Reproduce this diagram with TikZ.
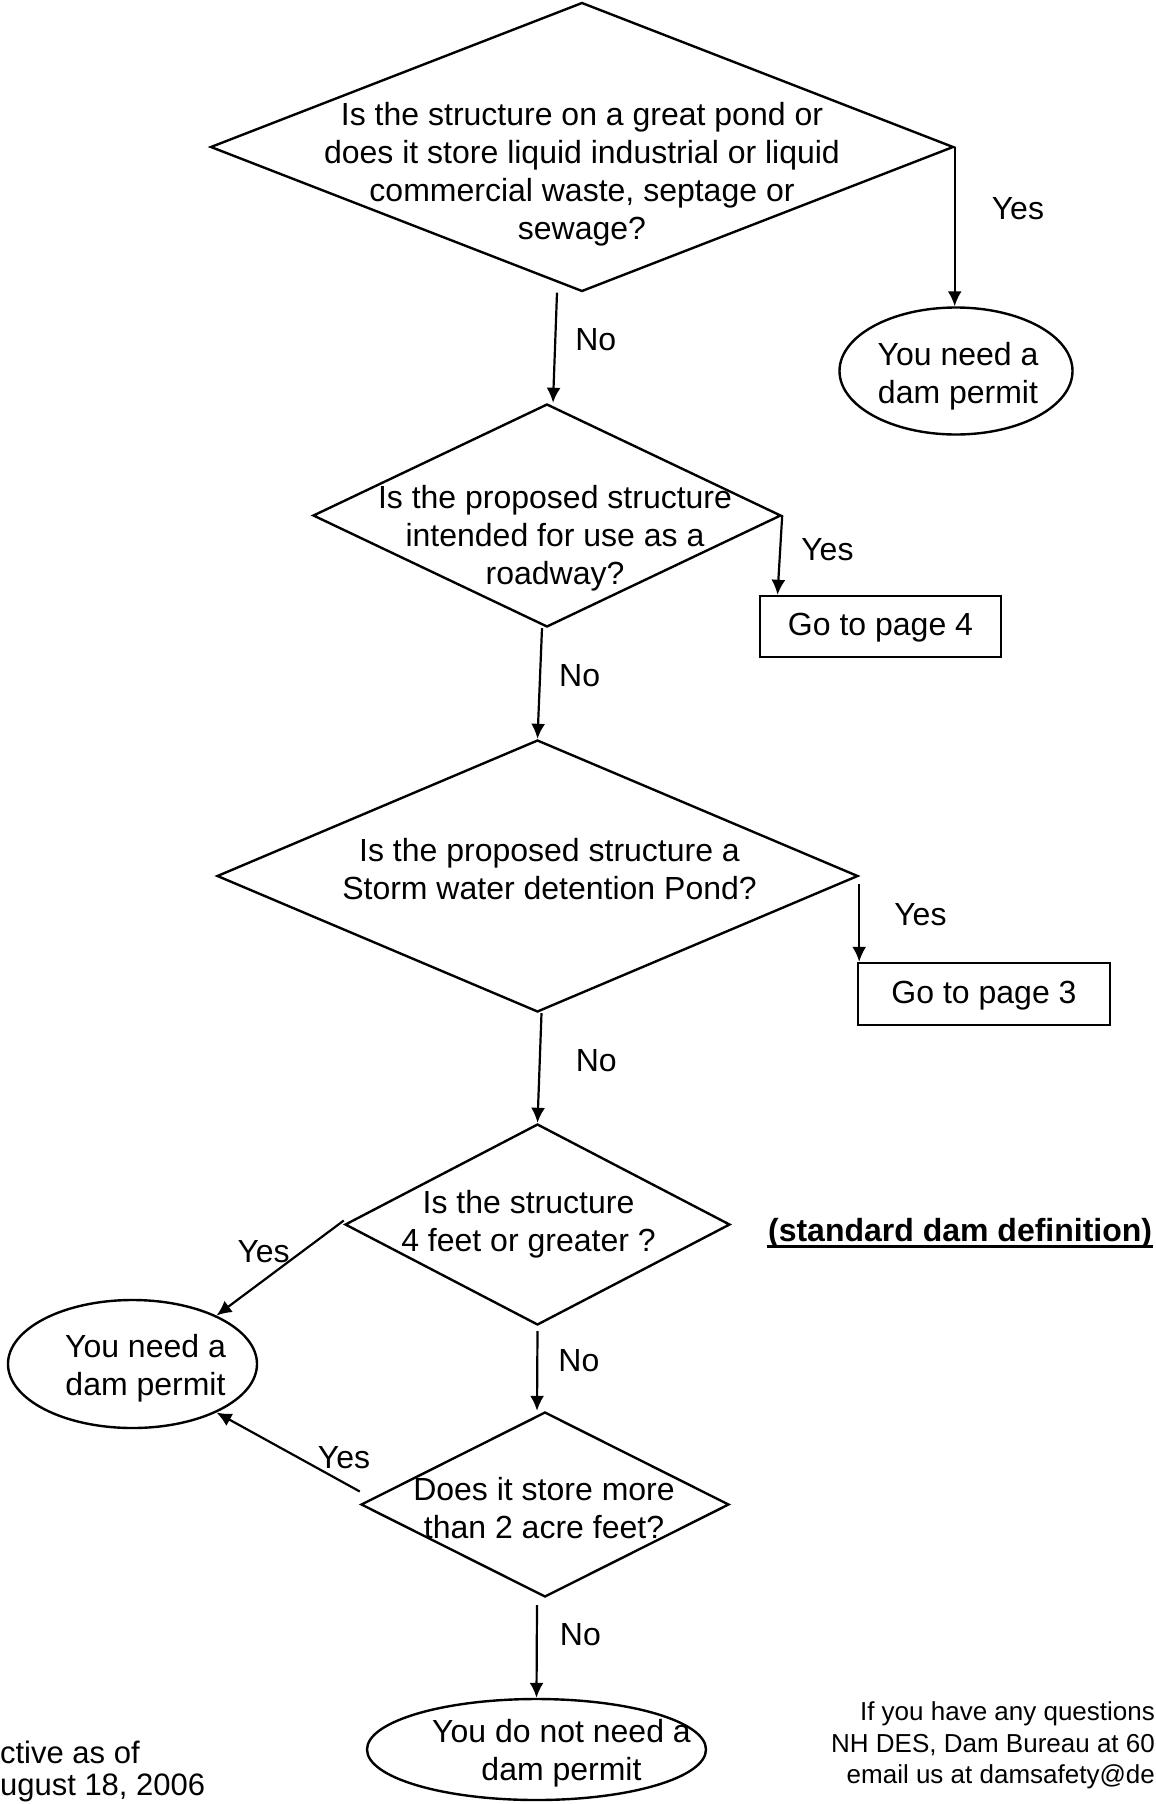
\documentclass[tikz,border=0pt]{standalone}
\usepackage{fontspec}
\setmainfont{Liberation Sans}
\usetikzlibrary{shapes.geometric,arrows.meta}
\usetikzlibrary{calc,positioning}
\tikzstyle{question} = [diamond,draw=black,line width=2.4pt,inner sep=0pt]
\tikzstyle{outcome} = [ellipse,draw=black,line width=2.4pt,inner sep=0pt]
\tikzstyle{gotopage} = [rectangle,draw=black,line width=2.4pt,inner sep=0pt,align=center]
\tikzstyle{qtext} = [align=center,inner sep=0pt,font=\fontsize{32}{38}\selectfont]
\tikzstyle{answer} = [inner sep=0pt,font=\fontsize{32}{38}\selectfont]

\begin{document}
\begin{tikzpicture}[->,>={Latex[length=15pt,width=14pt]},x=1pt,y=-1pt,line width=2.2pt,font=\fontsize{32}{38}\selectfont]
\useasboundingbox (0,0) rectangle (1156,1804);

\node (q1) [question,minimum width=743pt,minimum height=289pt,label={[qtext,yshift=-27pt]center:{Is the structure on a great pond or\\does it store liquid industrial or liquid\\commercial waste, septage or\\sewage?}}] at (582,147) {};
\node (e1) [outcome,minimum width=233pt,minimum height=127pt,label={[qtext,xshift=2pt,yshift=-5pt]center:{You need a\\dam permit}}] at (956,371) {};
\node (q2) [question,minimum width=468pt,minimum height=223pt,label={[qtext,xshift=8pt,yshift=-23pt]center:{Is the proposed structure\\intended for use as a\\roadway?}}] at (547,515.5) {};
\node (pg4) [gotopage,minimum width=241pt,minimum height=61pt,text depth=4pt] at (880.5,626.5) {Go to page 4};
\node (q3) [question,minimum width=641pt,minimum height=272pt,label={[qtext,xshift=12pt,yshift=7pt]center:{Is the proposed structure a\\Storm water detention Pond?}}] at (537.5,876) {};
\node (pg3) [gotopage,minimum width=252pt,minimum height=62pt,text depth=4pt] at (984,994) {Go to page 3};
\node (q4) [question,minimum width=385pt,minimum height=201pt,label={[qtext,xshift=-9pt]center:{Is the structure\\4 feet or greater ?}}] at (537.5,1224.5) {};
\node (defn) [anchor=base west,inner sep=0pt,font=\bfseries\fontsize{32}{38}\selectfont] at (767,1241) {(standard dam definition)};
\node (e2) [outcome,minimum width=249pt,minimum height=128pt,label={[qtext,xshift=13pt,yshift=-4pt]center:{You need a\\dam permit}}] at (132.5,1364) {};
\node (q5) [question,minimum width=368pt,minimum height=185pt,label={[qtext,xshift=-1pt,yshift=-4pt]center:{Does it store more\\than 2 acre feet?}}] at (545,1504.5) {};
\node (e3) [outcome,minimum width=339pt,minimum height=101pt,label={[qtext,xshift=25pt,yshift=-4pt]center:{You do not need a\\dam permit}}] at (536.5,1749.5) {};
\node (since) [anchor=north west,inner sep=0pt,align=left,font=\fontsize{31}{31.5}\selectfont] at (-1,1740) {ctive as of\\ugust 18, 2006};
\node (contact) [anchor=north east,inner sep=0pt,align=right,font=\fontsize{26}{31.5}\selectfont] at (1156,1701) {If you have any questions\\NH DES, Dam Bureau at 60\\email us at damsafety@de};

\draw[-,line width=3pt] ([yshift=-5pt]defn.base west)--([yshift=-5pt]defn.base east);

\draw (q1.east)--node[answer,pos=0.39,right=36pt]{Yes}(q1.east |- e1.north);
\draw ([xshift=-25pt]q1.south)--node[answer,pos=0.43,right=19pt]{No}([xshift=6pt]q2.north);
\draw (q2.east)--node[answer,pos=0.43,right=20pt]{Yes}([xshift=-103pt]pg4.north);
\draw ([xshift=-5pt]q2.south)--node[answer,pos=0.43,right=18pt]{No}(q3.north);
\draw ([yshift=-8pt]q3.east)--node[answer,pos=0.4,right=34pt]{Yes}(q3.east |- pg3.north);
\draw ([xshift=4pt]q3.south)--node[answer,pos=0.43,right=35pt]{No}(q4.north);
\draw ([yshift=4pt]q4.west)--node[answer,pos=0.63,above=16pt]{Yes}(e2.30);
\draw ([yshift=-5pt]q4.south)--node[answer,pos=0.37,right=20pt]{No}([xshift=-8pt]q5.north);
\draw ([yshift=13pt]q5.west)--node[answer,pos=0.11,above=13pt]{Yes}(e2.-30);
\draw ([xshift=-8pt,yshift=-7pt]q5.south)--node[answer,pos=0.32,right=22pt]{No}(e3.north);

\end{tikzpicture}
\end{document}
